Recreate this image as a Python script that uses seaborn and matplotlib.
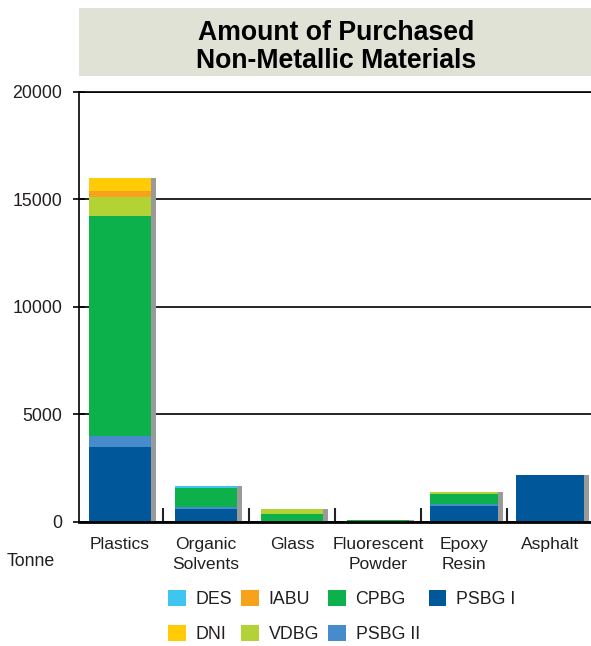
import numpy as np
import matplotlib
matplotlib.use("Agg")
import matplotlib.pyplot as plt
from matplotlib.patches import Patch, Rectangle
from matplotlib.ticker import FixedLocator
import seaborn as sns

# Purchased non-metallic materials, tonnes, by business group
categories = ["Plastics", "Organic\nSolvents", "Glass", "Fluorescent\nPowder",
              "Epoxy\nResin", "Asphalt"]
psbg_i = [3500, 600, 0, 0, 750, 2200]
psbg_ii = [500, 100, 0, 0, 100, 0]
cpbg = [10250, 900, 390, 100, 450, 0]
vdbg = [870, 0, 220, 0, 100, 0]
iabu = [280, 0, 0, 0, 0, 0]
dni = [600, 0, 0, 0, 0, 0]
des = [0, 50, 0, 0, 0, 0]
y_ticks = [0, 5000, 10000, 15000, 20000]

# stacking order, bottom to top
layers = [
    ("PSBG I", psbg_i, "#00579a"),
    ("PSBG II", psbg_ii, "#468ccc"),
    ("CPBG", cpbg, "#0db14b"),
    ("VDBG", vdbg, "#b2d235"),
    ("IABU", iabu, "#f7a21b"),
    ("DNI", dni, "#ffcb05"),
    ("DES", des, "#40c4f0"),
]
bar_widths = [0.72, 0.72, 0.72, 0.72, 0.8, 0.8]
shadow_shift = 0.058
shadow_color = "#9a9a9a"

sns.set_style("white")
plt.rcParams["font.family"] = ["Liberation Sans", "DejaVu Sans"]
text_color = "#231f20"

fig = plt.figure(figsize=(5.91, 6.46), dpi=100)
ax = fig.add_axes([0.1337, 0.192, 0.8663, 0.6656])


def fit_widths(container):
    for p, w in zip(container.patches, bar_widths):
        c = p.get_x() + p.get_width() / 2
        p.set_width(w)
        p.set_x(c - w / 2)


# grey drop shadow on the right of each stack
totals = np.sum([np.array(v) for _, v, _ in layers], axis=0)
sns.barplot(x=categories, y=totals, order=categories, color=shadow_color,
            saturation=1, errorbar=None, width=0.72, linewidth=0, ax=ax,
            zorder=2)
fit_widths(ax.containers[-1])
for p in ax.containers[-1].patches:
    p.set_x(p.get_x() + shadow_shift)

bottom = np.zeros(len(categories))
for name, vals, color in layers:
    sns.barplot(x=categories, y=vals, order=categories, color=color,
                saturation=1, errorbar=None, width=0.72, linewidth=0,
                bottom=bottom, ax=ax, zorder=3)
    fit_widths(ax.containers[-1])
    bottom = bottom + np.array(vals)

ax.set_xlim(-0.477, 5.476)
ax.set_ylim(0, 20000)
ax.set_yticks(y_ticks)
ax.set_yticklabels([str(t) for t in y_ticks])
ax.set_xlabel("")
ax.set_ylabel("")

ax.set_axisbelow(True)
ax.yaxis.grid(True, color="black", linewidth=1.2)
ax.xaxis.grid(False)

for side in ["left", "top"]:
    ax.spines[side].set_visible(True)
    ax.spines[side].set_color("black")
    ax.spines[side].set_linewidth(1.2)
ax.spines["bottom"].set_color("black")
ax.spines["bottom"].set_linewidth(2.0)
ax.spines["bottom"].set_zorder(5)
ax.spines["right"].set_visible(False)

ax.tick_params(axis="y", direction="inout", length=8, width=1.2,
               color="black", labelsize=12.8, labelcolor=text_color, pad=8,
               left=True)
ax.tick_params(axis="x", which="major", length=0, labelsize=12.6,
               labelcolor=text_color, pad=11)
ax.xaxis.set_minor_locator(FixedLocator([0.5, 1.5, 2.5, 3.5, 4.5]))
ax.tick_params(axis="x", which="minor", direction="in", length=10,
               width=1.5, color="#222222", bottom=True)
for lbl in ax.get_xticklabels():
    lbl.set_linespacing(1.4)

# title banner
fig.patches.append(Rectangle((79 / 591, 1 - 76 / 646), 1 - 79 / 591,
                             68 / 646, transform=fig.transFigure,
                             facecolor="#e0e2d6", edgecolor="none",
                             zorder=0))
fig.text(336 / 591, 1 - 46.5 / 646,
         "Amount of Purchased\nNon-Metallic Materials",
         ha="center", va="center", fontsize=19.2, fontweight="bold",
         color="black", linespacing=1.1)

fig.text(7 / 591, 1 - 561 / 646, "Tonne", ha="left", va="center",
         fontsize=12.8, color=text_color)

# legend: column-major fill gives rows DES IABU CPBG PSBG I / DNI VDBG PSBG II
color_of = {name: color for name, _, color in layers}
legend_order = ["DES", "DNI", "IABU", "VDBG", "CPBG", "PSBG II", "PSBG I"]
handles = [Patch(facecolor=color_of[n], edgecolor="none", label=n)
           for n in legend_order]
leg = fig.legend(handles=handles, ncol=4, loc="upper left",
                 bbox_to_anchor=(168 / 591, 1 - 590 / 646), frameon=False,
                 fontsize=12.8, handlelength=1.0, handleheight=1.0,
                 handletextpad=0.55, columnspacing=0.5, labelspacing=0.95,
                 borderpad=0, borderaxespad=0)
for t in leg.get_texts():
    t.set_color(text_color)

fig.savefig("out.png", dpi=100)
